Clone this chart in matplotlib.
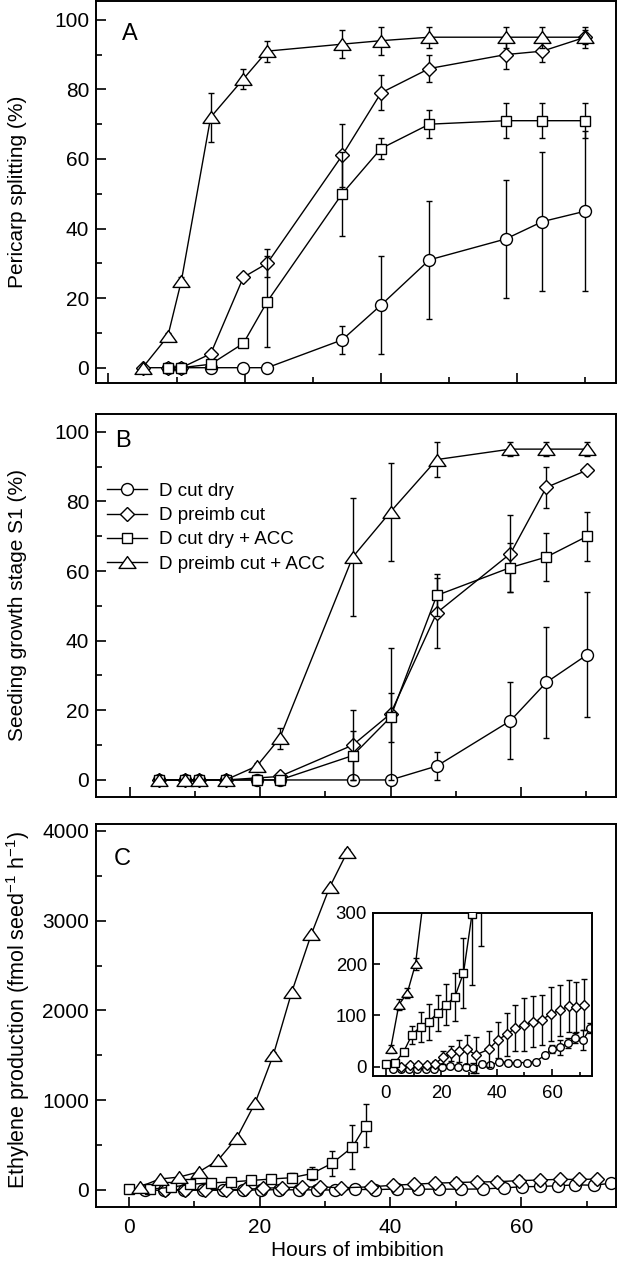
import matplotlib
matplotlib.use("Agg")
import matplotlib.pyplot as plt
from matplotlib.path import Path
from matplotlib.ticker import MultipleLocator

plt.rcParams['font.family'] = ['Liberation Sans', 'DejaVu Sans']
plt.rcParams['mathtext.fontset'] = 'custom'
plt.rcParams['mathtext.rm'] = 'Liberation Sans'
plt.rcParams['mathtext.default'] = 'regular'

# ---------------- panel A: pericarp splitting (%)
hours_a = [5, 8.7, 10.7, 15, 19.8, 23.3, 34.3, 40, 47.1, 58.3, 63.7, 70]
hours_a2 = [8.7, 10.7, 15, 19.8, 23.3, 34.3, 40, 47.1, 58.3, 63.7, 70]
a_cut_dry = [0, 0, 0, 0, 0, 8, 18, 31, 37, 42, 45]
a_cut_dry_err = [0, 0, 0, 0, 0, 4, 14, 17, 17, 20, 23]
a_preimb = [0, 0, 0, 4, 26, 30, 61, 79, 86, 90, 91, 95]
a_preimb_err = [0, 0, 0, 1, 1, 4, 9, 5, 4, 4, 3, 2]
a_dry_acc = [0, 0, 1, 7, 19, 50, 63, 70, 71, 71, 71]
a_dry_acc_err = [0, 0, 1, 1, 13, 12, 3, 4, 5, 5, 5]
a_preimb_acc = [0, 9, 25, 72, 83, 91, 93, 94, 95, 95, 95, 95]
a_preimb_acc_err = [0, 1, 1, 7, 3, 3, 4, 4, 3, 3, 3, 3]

# ---------------- panel B: seedling growth stage S1 (%)
hours_b = [4.5, 8.4, 10.6, 14.7, 19.5, 23, 34.2, 40, 47.1, 58.4, 63.9, 70.2]
hours_b_dia = [4.5, 8.4, 10.6, 14.7, 23, 34.2, 40, 47.1, 58.4, 63.9, 70.2]
b_cut_dry = [0, 0, 0, 0, 0, 0, 0, 0, 4, 17, 28, 36]
b_cut_dry_err = [0, 0, 0, 0, 0, 0, 1, 1, 4, 11, 16, 18]
b_preimb = [0, 0, 0, 0, 1, 10, 19, 48, 65, 84, 89]
b_preimb_err = [0, 0, 0, 0, 1, 10, 19, 10, 11, 6, 1]
b_dry_acc = [0, 0, 0, 0, 0, 0, 7, 18, 53, 61, 64, 70]
b_dry_acc_err = [0, 0, 0, 0, 0, 1, 7, 7, 6, 7, 7, 7]
b_preimb_acc = [0, 0, 0, 0, 4, 12, 64, 77, 92, 95, 95, 95]
b_preimb_acc_err = [0, 0, 0, 0, 1, 3, 17, 14, 5, 2, 2, 2]

# ---------------- panel C: ethylene production
hours_c_cir = [2.5, 5.4, 8.4, 11.4, 14.4, 17.4, 20.2, 23.0, 26.0, 28.8, 31.6, 34.6, 37.7,
               41.0, 44.2, 47.5, 50.8, 54.1, 57.3, 60.1, 62.9, 65.6, 68.3, 71.2, 73.8]
c_cut_dry = [-4, -4, -4, -4, -4, -4, 0, 2, 0, 0, -2, 6, 3, 10, 8, 8, 8, 10, 22, 35, 38, 46, 56, 52, 75]
c_cut_dry_err = [3, 3, 3, 3, 3, 3, 3, 3, 4, 4, 10, 5, 5, 5, 5, 4, 4, 4, 5, 8, 15, 10, 10, 20, 10]
hours_c_dia = [5.5, 8.6, 11.7, 14.8, 17.7, 20.5, 23.5, 26.5, 29.3, 32.5, 37.1, 40.4, 43.6,
               46.8, 50.0, 53.2, 56.3, 59.6, 62.8, 66.0, 68.8, 71.6]
c_preimb = [0, 3, 3, 3, 5, 18, 26, 31, 34, 23, 34, 52, 63, 75, 82, 88, 91, 103, 110, 118, 116, 121]
c_preimb_err = [3, 4, 4, 5, 6, 12, 15, 22, 28, 35, 35, 35, 42, 45, 52, 50, 48, 52, 50, 50, 48, 50]
hours_c_sq = [0, 3.3, 6.4, 9.4, 12.5, 15.6, 18.7, 21.8, 24.9, 28, 31.1, 34.2, 36.2]
c_dry_acc = [6, 8, 29, 62, 78, 88, 105, 121, 136, 182, 297, 477, 716]
c_dry_acc_err = [5, 5, 6, 17, 29, 35, 35, 40, 47, 68, 138, 242, 243]
hours_c_tri = [1.7, 4.7, 7.7, 10.7, 13.6, 16.5, 19.3, 22.1, 24.9, 27.9, 30.7, 33.4]
c_preimb_acc = [34, 121, 143, 200, 328, 579, 966, 1504, 2201, 2847, 3371, 3765]
c_preimb_acc_err = [8, 10, 10, 12, 20, 20, 30, 30, 30, 30, 30, 30]

labels = ['D cut dry', 'D preimb cut', 'D cut dry + ACC', 'D preimb cut + ACC']

# wide, flat triangle like the original
tri = Path([(0, 0.7), (-1, -0.7), (1, -0.7), (0, 0.7)],
           [Path.MOVETO, Path.LINETO, Path.LINETO, Path.CLOSEPOLY])

big = [('o', 8.6), ('D', 7.1), ('s', 7.8), (tri, 12.2)]
small = [('o', 5.5), ('D', 5.6), ('s', 5.8), (tri, 8.0)]


def series(ax, x, y, e, style, z):
    m, ms = style
    return ax.errorbar(x, y, yerr=e, fmt='-', color='k', marker=m, ms=ms,
                       mfc='white', mec='k', mew=1.0, lw=1.0, elinewidth=1.0,
                       capsize=2.4, capthick=1.0, zorder=z)


def style_axes(ax, xmaj, xmin, ymaj, ymin, size=15, xpad=7.5, ypad=5):
    ax.xaxis.set_major_locator(MultipleLocator(xmaj))
    ax.xaxis.set_minor_locator(MultipleLocator(xmin))
    ax.yaxis.set_major_locator(MultipleLocator(ymaj))
    if ymin:
        ax.yaxis.set_minor_locator(MultipleLocator(ymin))
    ax.tick_params(which='both', direction='in', width=1.2, labelsize=size)
    ax.tick_params(which='major', length=7)
    ax.tick_params(which='minor', length=4.3)
    ax.tick_params(axis='x', pad=xpad)
    ax.tick_params(axis='y', pad=ypad)
    for s in ax.spines.values():
        s.set_linewidth(1.4)


fig = plt.figure(figsize=(6.18, 12.8), dpi=100)
ax_a = fig.add_axes([0.1555, 0.7005, 0.8413, 0.2987])
ax_b = fig.add_axes([0.1555, 0.3776, 0.8413, 0.2990])
ax_c = fig.add_axes([0.1555, 0.0568, 0.8413, 0.2995])
ax_i = fig.add_axes([0.6029, 0.1594, 0.3558, 0.1276])

# A
series(ax_a, hours_a2, a_cut_dry, a_cut_dry_err, big[0], 2)
series(ax_a, hours_a, a_preimb, a_preimb_err, big[1], 3)
series(ax_a, hours_a2, a_dry_acc, a_dry_acc_err, big[2], 4)
series(ax_a, hours_a, a_preimb_acc, a_preimb_acc_err, big[3], 5)
ax_a.set_xlim(-1.82, 74.5)
ax_a.set_ylim(-4.5, 105.4)
style_axes(ax_a, 20, 10, 20, 10)
ax_a.tick_params(axis='x', labelbottom=False)
ax_a.text(0.05, 0.943, 'A', transform=ax_a.transAxes, fontsize=17, va='top', ha='left')

# B
h1 = series(ax_b, hours_b, b_cut_dry, b_cut_dry_err, big[0], 2)
h2 = series(ax_b, hours_b_dia, b_preimb, b_preimb_err, big[1], 3)
h3 = series(ax_b, hours_b, b_dry_acc, b_dry_acc_err, big[2], 4)
h4 = series(ax_b, hours_b, b_preimb_acc, b_preimb_acc_err, big[3], 5)
ax_b.set_xlim(-5.17, 74.6)
ax_b.set_ylim(-4.8, 105.1)
style_axes(ax_b, 20, 10, 20, 10)
ax_b.tick_params(axis='x', labelbottom=False)
ax_b.text(0.036, 0.958, 'B', transform=ax_b.transAxes, fontsize=17, va='top', ha='left')
ax_b.legend([h[0] for h in (h1, h2, h3, h4)], labels, loc='upper left',
            bbox_to_anchor=(0.021, 0.82), frameon=False, fontsize=13.5,
            handlelength=2.15, handletextpad=0.64, labelspacing=0.38,
            borderpad=0, borderaxespad=0)

# C main + inset
for ax, st in ((ax_c, big), (ax_i, small)):
    series(ax, hours_c_cir, c_cut_dry, c_cut_dry_err, st[0], 2)
    series(ax, hours_c_dia, c_preimb, c_preimb_err, st[1], 3)
    series(ax, hours_c_sq, c_dry_acc, c_dry_acc_err, st[2], 4)
    series(ax, hours_c_tri, c_preimb_acc, c_preimb_acc_err, st[3], 5)

ax_c.set_xlim(-5.0, 74.5)
ax_c.set_ylim(-194, 4078)
style_axes(ax_c, 20, 10, 1000, 500)
ax_c.text(0.033, 0.937, 'C', transform=ax_c.transAxes, fontsize=17, va='top', ha='left')

ax_i.set_xlim(-4.8, 74.6)
ax_i.set_ylim(-18, 300)
style_axes(ax_i, 20, 10, 100, None, size=13.4, xpad=6.5, ypad=4)
ax_i.tick_params(which='major', length=5)
ax_i.tick_params(which='minor', length=3)

fig.text(18 / 618, 1 - 192 / 1280, 'Pericarp splitting (%)', rotation=90,
         ha='center', va='center', fontsize=15)
fig.text(18 / 618, 1 - 605 / 1280, 'Seeding growth stage S1 (%)', rotation=90,
         ha='center', va='center', fontsize=15)
fig.text(18 / 618, 1 - 1010 / 1280, 'Ethylene production (fmol seed$^{-1}$ h$^{-1}$)',
         rotation=90, ha='center', va='center', fontsize=15.5)
fig.text(357 / 618, 1 - 1250 / 1280, 'Hours of imbibition', ha='center', va='center',
         fontsize=15)

fig.savefig('out.png', dpi=100)
